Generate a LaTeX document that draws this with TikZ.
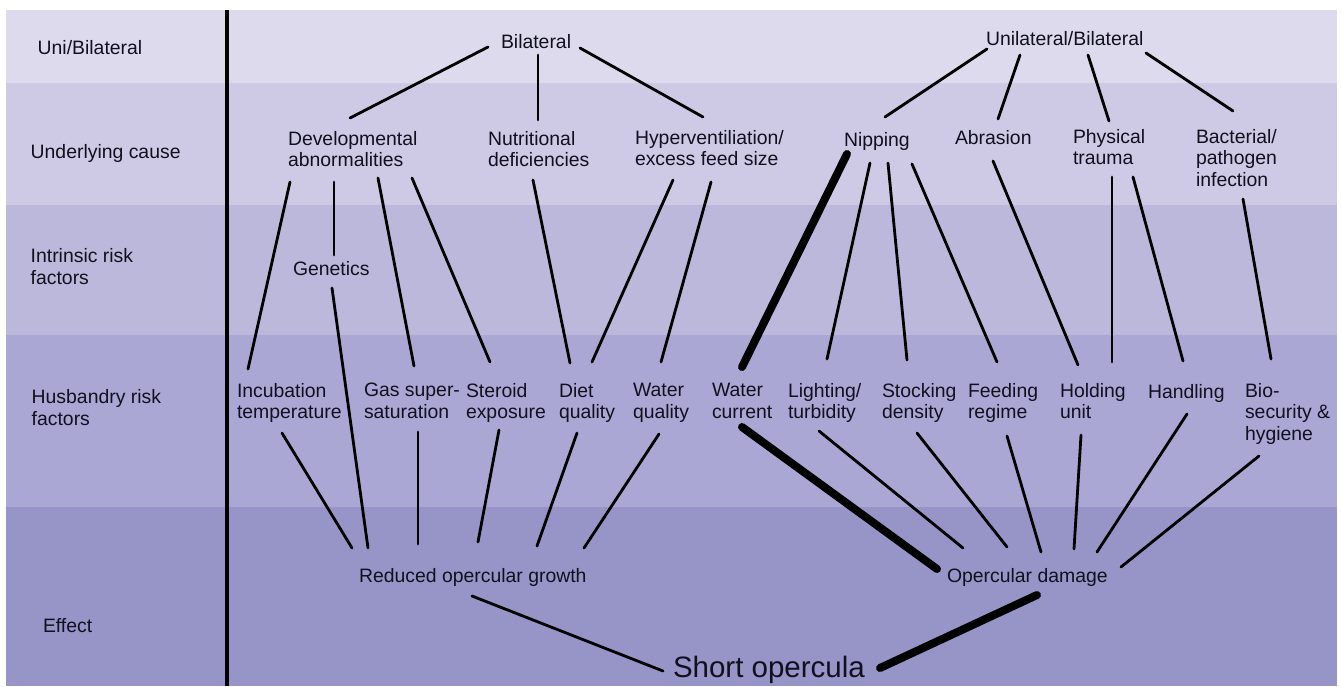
\documentclass[tikz,border=0pt]{standalone}
\usepackage{fontspec}
\setmainfont{Liberation Sans}
\definecolor{bandA}{HTML}{DCDAEC}
\definecolor{bandB}{HTML}{CECAE5}
\definecolor{bandC}{HTML}{BCB8DC}
\definecolor{bandD}{HTML}{ABA7D4}
\definecolor{bandE}{HTML}{9795C8}
\definecolor{ink}{HTML}{10101F}
\begin{document}
\begin{tikzpicture}[x=1pt,y=-1pt,
  txt/.style={anchor=north west,inner sep=0pt,outer sep=0pt,align=left,text=ink,
    font=\fontsize{19.4}{21.7}\selectfont,execute at begin node=\strut,execute at end node=\strut},
  big/.style={txt,font=\fontsize{29.5}{35.4}\selectfont},
  ln/.style={draw=black,line width=2.8pt,line cap=round},
  thick ln/.style={draw=black,line width=8pt,line cap=round}]
\useasboundingbox (0,0) rectangle (1341,686);
\fill[white] (0,0) rectangle (1341,686);
% bands
\fill[bandA] (6,10) rectangle (1337,83);
\fill[bandB] (6,83) rectangle (1337,205);
\fill[bandC] (6,205) rectangle (1337,335);
\fill[bandD] (6,335) rectangle (1337,507);
\fill[bandE] (6,507) rectangle (1337,686);
\draw[line width=4pt,black] (226.7,10) -- (226.7,686);
% row labels
\node[txt] (lab1) at (37.7,39.3) {Uni/Bilateral};
\node[txt] (lab2) at (30.7,143.3) {Underlying cause};
\node[txt] (lab3) at (30.7,248.3) {Intrinsic risk\\factors};
\node[txt] (lab4) at (31.7,389.3) {Husbandry risk\\factors};
\node[txt] (lab5) at (43,617.3) {Effect};
% nodes
\node[txt] (bil) at (501,33) {Bilateral};
\node[txt] (uni) at (986,30) {Unilateral/Bilateral};
\node[txt] (dev) at (288,131) {Developmental\\abnormalities};
\node[txt] (nut) at (488,131) {Nutritional\\deficiencies};
\node[txt] (hyp) at (635,130) {Hyperventiliation/\\excess feed size};
\node[txt] (nip) at (844,131) {Nipping};
\node[txt] (abr) at (955,129) {Abrasion};
\node[txt] (phy) at (1073,129) {Physical\\trauma};
\node[txt] (bac) at (1196,129) {Bacterial/\\pathogen\\infection};
\node[txt] (gen) at (293,260) {Genetics};
\node[txt] (inc) at (237,383) {Incubation\\temperature};
\node[txt] (gas) at (364,383) {Gas super-\\saturation};
\node[txt] (ste) at (466,383) {Steroid\\exposure};
\node[txt] (die) at (559,383) {Diet\\quality};
\node[txt] (wq) at (633,383) {Water\\quality};
\node[txt] (wc) at (712,383) {Water\\current};
\node[txt] (lig) at (788,383) {Lighting/\\turbidity};
\node[txt] (sto) at (882,383) {Stocking\\density};
\node[txt] (fee) at (968,383) {Feeding\\regime};
\node[txt] (hol) at (1060,383) {Holding\\unit};
\node[txt] (han) at (1148,383) {Handling};
\node[txt] (bio) at (1245,383) {Bio-\\security \&\\hygiene};
\node[txt] (red) at (359,567) {Reduced opercular growth};
\node[txt] (dam) at (947,567) {Opercular damage};
\node[big] (sho) at (673,653) {Short opercula};
% connectors
\draw[ln] ([shift={(-13,14)}]bil.north west) -- ([shift={(62,-13)}]dev.north west);
\draw[ln] ([shift={(37,22)}]bil.north west) -- ([shift={(50,-11)}]nut.north west);
\draw[ln] ([shift={(79,15)}]bil.north west) -- ([shift={(68,-13)}]hyp.north west);
\draw[ln] ([shift={(1,19)}]uni.north west) -- ([shift={(41,-14)}]nip.north west);
\draw[ln] ([shift={(34,25)}]uni.north west) -- ([shift={(43,-10)}]abr.north west);
\draw[ln] ([shift={(102,25)}]uni.north west) -- ([shift={(36,-8)}]phy.north west);
\draw[ln] ([shift={(160,23)}]uni.north west) -- ([shift={(37,-18)}]bac.north west);
\draw[ln] ([shift={(2,51)}]dev.north west) -- ([shift={(11,-14)}]inc.north west);
\draw[ln] ([shift={(46,51)}]dev.north west) -- ([shift={(41,-5)}]gen.north west);
\draw[ln] ([shift={(90,47)}]dev.north west) -- ([shift={(50,-17)}]gas.north west);
\draw[ln] ([shift={(124,47)}]dev.north west) -- ([shift={(24,-21)}]ste.north west);
\draw[ln] ([shift={(39,28)}]gen.north west) -- ([shift={(9,-19)}]red.north west);
\draw[ln] ([shift={(45,49)}]nut.north west) -- ([shift={(11,-20)}]die.north west);
\draw[ln] ([shift={(38,50)}]hyp.north west) -- ([shift={(33,-21)}]die.north west);
\draw[ln] ([shift={(76,52)}]hyp.north west) -- ([shift={(28,-21)}]wq.north west);
\draw[thick ln] ([shift={(3,23)}]nip.north west) -- ([shift={(30,-16)}]wc.north west);
\draw[ln] ([shift={(26,32)}]nip.north west) -- ([shift={(39,-24)}]lig.north west);
\draw[ln] ([shift={(44,32)}]nip.north west) -- ([shift={(25,-23)}]sto.north west);
\draw[ln] ([shift={(68,33)}]nip.north west) -- ([shift={(29,-21)}]fee.north west);
\draw[ln] ([shift={(38,32)}]abr.north west) -- ([shift={(18,-18)}]hol.north west);
\draw[ln] ([shift={(39,48)}]phy.north west) -- ([shift={(52,-21)}]hol.north west);
\draw[ln] ([shift={(60,48)}]phy.north west) -- ([shift={(35,-22)}]han.north west);
\draw[ln] ([shift={(47,70)}]bac.north west) -- ([shift={(26,-24)}]bio.north west);
\draw[ln] ([shift={(45,50)}]inc.north west) -- ([shift={(-7,-19)}]red.north west);
\draw[ln] ([shift={(54,49)}]gas.north west) -- ([shift={(59,-23)}]red.north west);
\draw[ln] ([shift={(33,47)}]ste.north west) -- ([shift={(119,-25)}]red.north west);
\draw[ln] ([shift={(18,50)}]die.north west) -- ([shift={(178,-21)}]red.north west);
\draw[ln] ([shift={(26,51)}]wq.north west) -- ([shift={(225,-19)}]red.north west);
\draw[ln] ([shift={(113,29)}]red.north west) -- ([shift={(-10,18)}]sho.north west);
\draw[thick ln] ([shift={(30,44)}]wc.north west) -- ([shift={(-10,2)}]dam.north west);
\draw[ln] ([shift={(31,48)}]lig.north west) -- ([shift={(16,-19)}]dam.north west);
\draw[ln] ([shift={(35,50)}]sto.north west) -- ([shift={(60,-20)}]dam.north west);
\draw[ln] ([shift={(39,53)}]fee.north west) -- ([shift={(94,-15)}]dam.north west);
\draw[ln] ([shift={(21,52)}]hol.north west) -- ([shift={(127,-18)}]dam.north west);
\draw[ln] ([shift={(39,31)}]han.north west) -- ([shift={(150,-15)}]dam.north west);
\draw[ln] ([shift={(14,73)}]bio.north west) -- ([shift={(174,0)}]dam.north west);
\draw[thick ln] ([shift={(90,28)}]dam.north west) -- ([shift={(207,15)}]sho.north west);
\end{tikzpicture}
\end{document}
